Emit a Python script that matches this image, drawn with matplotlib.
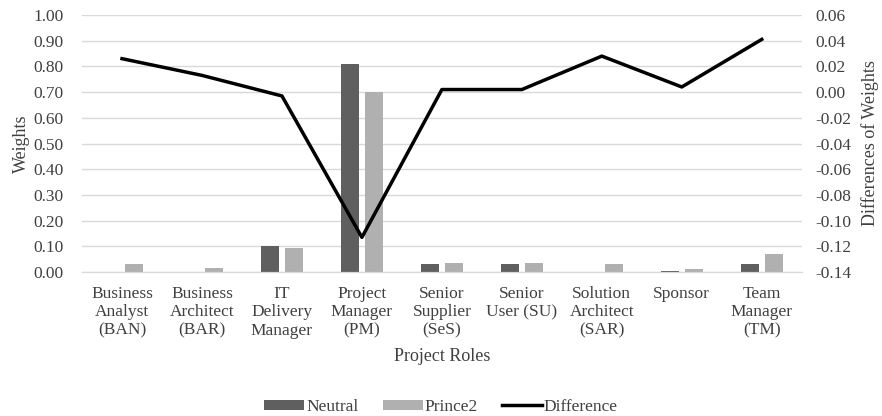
import matplotlib
matplotlib.use("Agg")
import matplotlib.pyplot as plt
import numpy as np

roles = ["Business\nAnalyst\n(BAN)", "Business\nArchitect\n(BAR)", "IT\nDelivery\nManager",
         "Project\nManager\n(PM)", "Senior\nSupplier\n(SeS)", "Senior\nUser (SU)",
         "Solution\nArchitect\n(SAR)", "Sponsor", "Team\nManager\n(TM)"]
neutral = [0.0, 0.0, 0.10, 0.81, 0.03, 0.03, 0.0, 0.005, 0.03]
prince2 = [0.03, 0.015, 0.095, 0.70, 0.035, 0.035, 0.03, 0.01, 0.07]
difference = [0.026, 0.013, -0.003, -0.113, 0.002, 0.002, 0.028, 0.004, 0.041]

plt.rcParams['font.family'] = ['Liberation Serif', 'DejaVu Serif']
plt.rcParams['font.size'] = 12.5
txt = '#404040'

fig = plt.figure(figsize=(8.82, 4.16), dpi=100)
ax = fig.add_axes([0.093, 0.346, 0.816, 0.618])
par = ax.twinx()

x = np.arange(len(roles))
w = 0.225
b1 = ax.bar(x - 0.15, neutral, w, color='#5f5f5f', label='Neutral', zorder=2)
b2 = ax.bar(x + 0.15, prince2, w, color='#b0b0b0', label='Prince2', zorder=2)
ln, = par.plot(x, difference, color='black', lw=2.5, label='Difference')

ax.set_xlim(-0.5, len(roles) - 0.5)
ax.set_ylim(0, 1.0)
ax.set_yticks(np.arange(0, 1.01, 0.1))
ax.set_yticklabels([f"{v:.2f}" for v in np.arange(0, 1.01, 0.1)])
par.set_ylim(-0.14, 0.06)
rt = np.arange(-0.14, 0.061, 0.02)
par.set_yticks(rt)
par.set_yticklabels([f"{v:.2f}" if abs(v) > 1e-9 else "0.00" for v in rt])

ax.set_xticks(x)
ax.set_xticklabels(roles, linespacing=1.2)
ax.grid(axis='y', color='#d9d9d9', lw=1, zorder=0)
ax.set_axisbelow(True)
for a in (ax, par):
    for s in ('top', 'left', 'right'):
        a.spines[s].set_visible(False)
    a.spines['bottom'].set_color('#d9d9d9')
    a.tick_params(length=0, colors=txt)
ax.tick_params(axis='y', pad=13)
par.tick_params(axis='y', pad=10)
ax.tick_params(axis='x', pad=10)

ax.set_xlabel("Project Roles", color=txt, fontsize=13, labelpad=7)
ax.set_ylabel("Weights", color=txt, fontsize=13, labelpad=3)
par.set_ylabel("Differences of Weights", color=txt, fontsize=13, labelpad=7)

fig.legend(handles=[b1, b2, ln], loc='lower center', ncol=3, frameon=False,
           bbox_to_anchor=(0.5, -0.035), handlelength=2.3, handleheight=0.5,
           columnspacing=1.4, handletextpad=0.1, labelcolor=txt, fontsize=12.5)

fig.savefig("out.png", dpi=100)
